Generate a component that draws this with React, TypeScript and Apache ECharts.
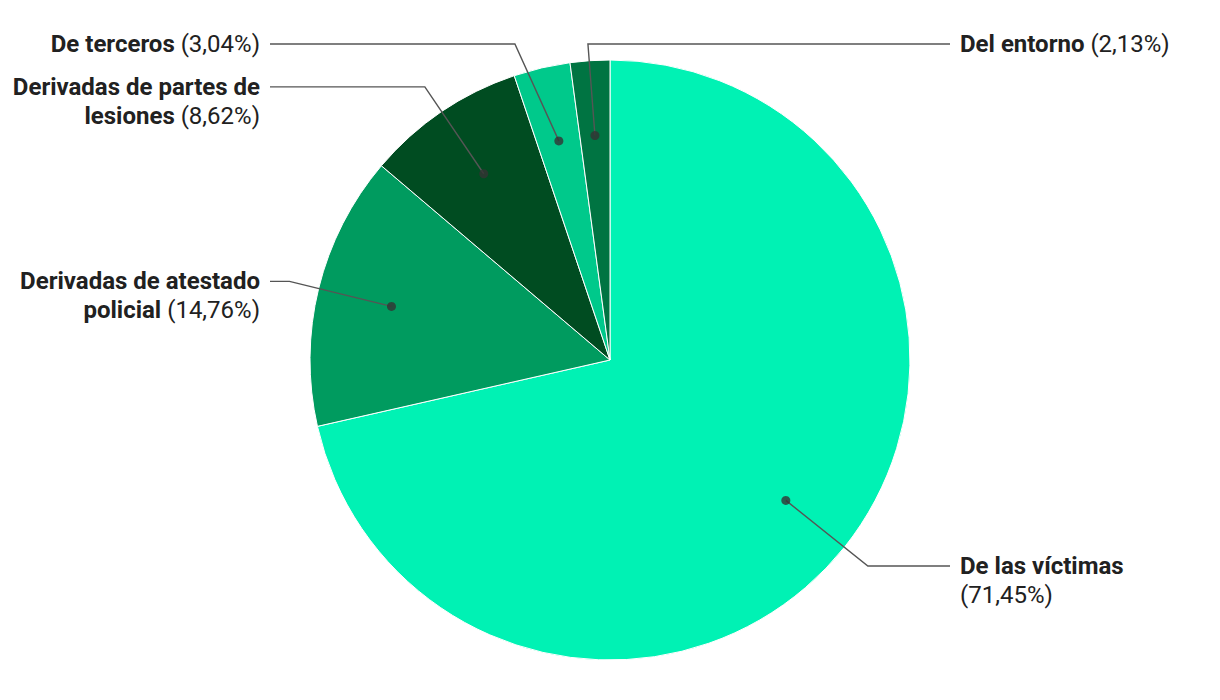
import React, { useEffect, useRef } from "react";
import * as echarts from "echarts";

// ---- data ----
const categories = [
  "De las víctimas",
  "Derivadas de atestado policial",
  "Derivadas de partes de lesiones",
  "De terceros",
  "Del entorno",
];
const values = [71.45, 14.76, 8.62, 3.04, 2.13];
// how each name wraps in the label
const labelNameLines = [
  ["De las víctimas"],
  ["Derivadas de atestado", "policial"],
  ["Derivadas de partes de", "lesiones"],
  ["De terceros"],
  ["Del entorno"],
];
const percentOnOwnLine = [true, false, false, false, false];

// ---- style / layout ----
const colors = ["#00F2B4", "#009B5F", "#004C21", "#00C98B", "#007442"];
const forcedSide: (string | null)[] = [null, null, null, null, "right"];
const W = 1220;
const H = 700;
const CX = 610;
const CY = 360;
const R = 300;
const DOT_FRACTION = 0.75;
const LINE_R = 330;
const MIN_Y = 44;
const MAX_Y = 660;
const LEFT_LINE_END = 270;
const RIGHT_LINE_END = 950;
const GAP = 10;
const FONT_SIZE = 24;
const LH = 29;
const TEXT_COLOR = "#212121";
const LINE_COLOR = "#555555";

const fmtPct = (v: number) => "(" + v.toFixed(2).replace(".", ",") + "%)";

export default function App() {
  const ref = useRef<HTMLDivElement>(null);

  useEffect(() => {
    document.body.style.margin = "0";
    if (!ref.current) return;
    const chart = echarts.init(ref.current, undefined, { renderer: "svg" });

    const total = values.reduce((a, b) => a + b, 0);
    const mids: number[] = [];
    let acc = 0;
    values.forEach((v) => {
      mids.push(acc + v / 2);
      acc += v;
    });

    const pieData = categories.map((name, i) => ({
      name,
      value: values[i],
      itemStyle: { color: colors[i] },
    }));

    const labelData = categories.map((name, i) => ({
      name,
      value: values[i],
    }));

    const formatter = (p: any) => {
      const i = p.dataIndex;
      const lines = labelNameLines[i].map((l) => "{b|" + l + "}");
      const pct = fmtPct(values[i]);
      if (percentOnOwnLine[i]) {
        lines.push("{r|" + pct + "}");
      } else {
        lines[lines.length - 1] += "{r| " + pct + "}";
      }
      return lines.join("\n");
    };

    const option: any = {
      animation: false,
      backgroundColor: "#ffffff",
      polar: { center: [CX, CY], radius: R },
      angleAxis: {
        type: "value",
        min: 0,
        max: total,
        startAngle: 90,
        clockwise: true,
        show: false,
      },
      radiusAxis: { type: "value", min: 0, max: 1, show: false },
      series: [
        {
          type: "pie",
          z: 1,
          center: [CX, CY],
          radius: [0, R],
          startAngle: 90,
          clockwise: true,
          silent: true,
          label: { show: false },
          labelLine: { show: false },
          itemStyle: { borderColor: "#ffffff", borderWidth: 1 },
          emphasis: { disabled: true },
          data: pieData,
        },
        {
          type: "pie",
          z: 5,
          center: [CX, CY],
          radius: [0, R * DOT_FRACTION],
          startAngle: 90,
          clockwise: true,
          silent: true,
          avoidLabelOverlap: false,
          itemStyle: { color: "rgba(0,0,0,0)", borderWidth: 0 },
          emphasis: { disabled: true },
          label: {
            show: true,
            position: "outer",
            formatter,
            rich: {
              b: {
                fontFamily: "Roboto",
                fontWeight: "bold",
                fontSize: FONT_SIZE,
                lineHeight: LH,
                color: TEXT_COLOR,
              },
              r: {
                fontFamily: "Roboto",
                fontWeight: "normal",
                fontSize: FONT_SIZE,
                lineHeight: LH,
                color: TEXT_COLOR,
              },
            },
          },
          labelLine: {
            show: true,
            showAbove: true,
            length: LINE_R - R * DOT_FRACTION,
            length2: 10,
            lineStyle: { color: LINE_COLOR, width: 1.4 },
          },
          labelLayout: (params: any) => {
            const i = params.dataIndex;
            const pts = params.labelLinePoints;
            if (!pts || !pts[0]) return {};
            const p0 = pts[0];
            const dx = p0[0] - CX;
            const dy = p0[1] - CY;
            const d = Math.hypot(dx, dy) || 1;
            let x1 = CX + (dx / d) * LINE_R;
            let y1 = CY + (dy / d) * LINE_R;
            const dotSide = dx < 0 ? "left" : "right";
            const side = forcedSide[i] || (x1 < CX ? "left" : "right");
            const clampY = y1 < MIN_Y ? MIN_Y : y1 > MAX_Y ? MAX_Y : null;
            if (clampY !== null) {
              y1 = clampY;
              if (side === dotSide) {
                const h = Math.sqrt(Math.max(0, LINE_R * LINE_R - (y1 - CY) * (y1 - CY)));
                x1 = CX + (side === "left" ? -h : h);
              }
            }
            const x2 = side === "left" ? LEFT_LINE_END : RIGHT_LINE_END;
            return {
              x: side === "left" ? x2 - GAP : x2 + GAP,
              y: y1 - LH / 2,
              align: side === "left" ? "right" : "left",
              verticalAlign: "top",
              labelLinePoints: [
                [p0[0], p0[1]],
                [x1, y1],
                [x2, y1],
              ],
            };
          },
          data: labelData,
        },
        {
          type: "scatter",
          z: 6,
          coordinateSystem: "polar",
          silent: true,
          symbol: "circle",
          symbolSize: 9,
          itemStyle: { color: "#333333" },
          data: mids.map((m) => [DOT_FRACTION, m]),
        },
      ],
    };

    chart.setOption(option);
    return () => {
      chart.dispose();
    };
  }, []);

  return <div ref={ref} style={{ width: W, height: H }} />;
}
